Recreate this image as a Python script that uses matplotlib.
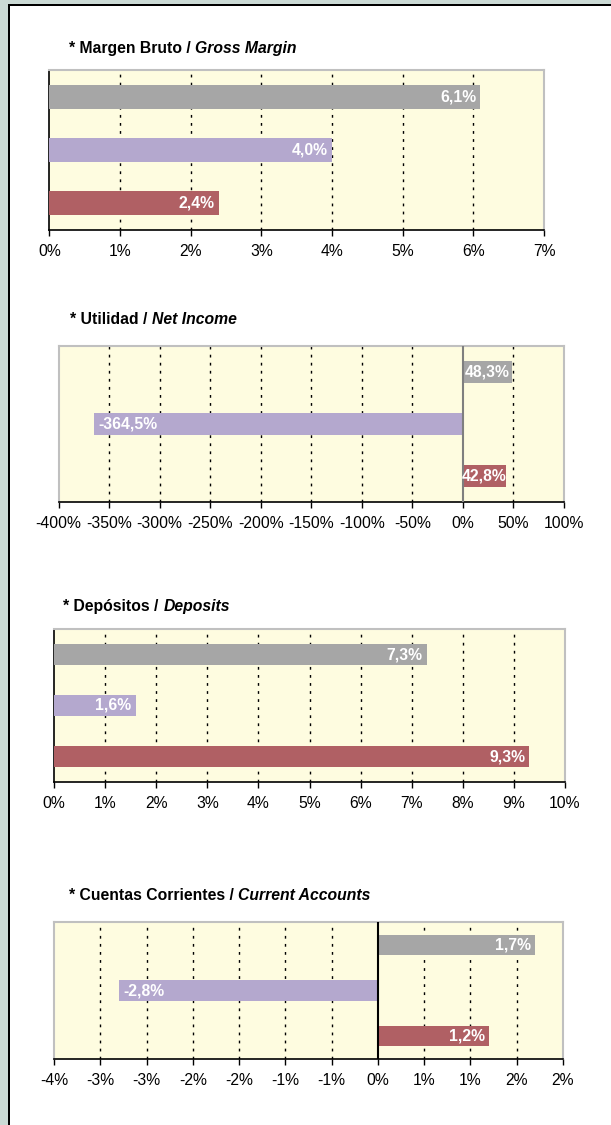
import math
import matplotlib
matplotlib.use("Agg")
import matplotlib.pyplot as plt
from matplotlib.patches import Rectangle
from matplotlib.ticker import MultipleLocator, FuncFormatter

plt.rcParams['font.family'] = ['Liberation Sans', 'DejaVu Sans']

#DATA
titulos_es = ["* Margen Bruto / ", "* Utilidad / ", "* Depósitos / ", "* Cuentas Corrientes / "]
titulos_en = ["Gross Margin", "Net Income", "Deposits", "Current Accounts"]
margen_bruto = [6.1, 4.0, 2.4]          # de arriba hacia abajo
utilidad = [48.3, -364.5, 42.8]
depositos = [7.3, 1.6, 9.3]
cuentas_corrientes = [1.7, -2.8, 1.2]
eje_min = [0, -400, 0, -3.5]
eje_max = [7, 100, 10, 2]
eje_paso = [1, 50, 1, 0.5]
colores = ['#A6A6A6', '#B4A8CE', '#B06064']

series = [margen_bruto, utilidad, depositos, cuentas_corrientes]

#LAYOUT (pixeles)
W, H = 611, 1125
cajas = [(49.5, 70, 544, 230), (58.5, 346, 564, 502),
         (54, 629, 565, 782), (54, 922, 563, 1059)]
pos_titulo = [(69, 49), (70, 319), (63.5, 607), (69, 896)]
alto_barra = [0.45, 0.42, 0.40, 0.44]
color_cero = ['black', '#7F7F7F', 'black', 'black']
fondo = '#FEFCE0'
borde = '#C0C0C0'
fs = 11.3

fig = plt.figure(figsize=(W / 100, H / 100), dpi=100)
fig.patch.set_facecolor('white')


def px_rect(x, y, w, h, color):
    fig.add_artist(Rectangle((x / W, 1 - (y + h) / H), w / W, h / H,
                             transform=fig.transFigure, facecolor=color,
                             edgecolor='none', zorder=0))


#FRAME
px_rect(0, 0, W, 4, '#CBDAD5')
px_rect(0, 0, 8, H, '#CBDAD5')
px_rect(8, 4, W - 8, 2, 'black')
px_rect(8, 4, 2, H - 4, 'black')


def redondeo_excel(v):
    r = math.floor(abs(v) + 0.5 + 1e-9)
    if r == 0:
        return "0%"
    return ("-" if v < 0 else "") + f"{r}%"


def etiqueta(v):
    return f"{v:.1f}".replace('.', ',') + '%'


renderer = fig.canvas.get_renderer()

for i in range(4):
    x0, y0, x1, y1 = cajas[i]
    ax = fig.add_axes([x0 / W, 1 - y1 / H, (x1 - x0) / W, (y1 - y0) / H])
    ax.set_facecolor(fondo)
    vals = series[i]
    ys = list(range(len(vals)))
    ax.barh(ys, vals, height=alto_barra[i], color=colores, zorder=3)
    ax.set_ylim(2.5, -0.5)
    ax.set_xlim(eje_min[i], eje_max[i])
    ax.xaxis.set_major_locator(MultipleLocator(eje_paso[i]))
    ax.xaxis.set_major_formatter(FuncFormatter(lambda v, p: redondeo_excel(v)))
    ax.set_yticks([])
    ax.tick_params(axis='x', direction='out', length=4, width=1, pad=6,
                   labelsize=fs, colors='black')

    # lineas de division
    n = int(round((eje_max[i] - eje_min[i]) / eje_paso[i]))
    for k in range(1, n):
        t = eje_min[i] + k * eje_paso[i]
        if abs(t) < 1e-9:
            continue
        ax.axvline(t, color='black', lw=1, linestyle=(0, (2, 3.8)), zorder=2)
    if eje_min[i] < 0:
        ax.axvline(0, color=color_cero[i], lw=1.5, zorder=4)

    for s in ['top', 'right']:
        ax.spines[s].set_color(borde)
        ax.spines[s].set_linewidth(1.5)
    ax.spines['bottom'].set_color('black')
    ax.spines['bottom'].set_linewidth(1.2)
    if eje_min[i] < 0:
        ax.spines['left'].set_color(borde)
        ax.spines['left'].set_linewidth(1.5)
    else:
        ax.spines['left'].set_color('black')
        ax.spines['left'].set_linewidth(1.2)

    # etiquetas de datos (extremo interior)
    for y, v in zip(ys, vals):
        if v >= 0:
            txt = ax.annotate(etiqueta(v), (v, y), xytext=(-3, 0), textcoords='offset points',
                              ha='right', va='center', color='white', fontweight='bold',
                              fontsize=fs, zorder=5)
        else:
            txt = ax.annotate(etiqueta(v), (v, y), xytext=(3, 0), textcoords='offset points',
                              ha='left', va='center', color='white', fontweight='bold',
                              fontsize=fs, zorder=5)
        # si no cabe, centrar en la barra
        ancho_txt = txt.get_window_extent(renderer).width
        ancho_barra = abs(ax.transData.transform((v, 0))[0] - ax.transData.transform((0, 0))[0])
        if ancho_txt + 4 > ancho_barra:
            txt.remove()
            ax.text(v / 2, y, etiqueta(v), ha='center', va='center', color='white',
                    fontweight='bold', fontsize=fs, zorder=5)

    # titulo
    tx, ty = pos_titulo[i]
    t1 = fig.text(tx / W, 1 - ty / H, titulos_es[i], fontweight='bold',
                  fontsize=fs, va='center', ha='left')
    bb = t1.get_window_extent(renderer)
    fig.text(bb.x1 / W, 1 - ty / H, titulos_en[i], fontweight='bold',
             fontstyle='italic', fontsize=fs, va='center', ha='left')

fig.savefig("out.png", dpi=100)
